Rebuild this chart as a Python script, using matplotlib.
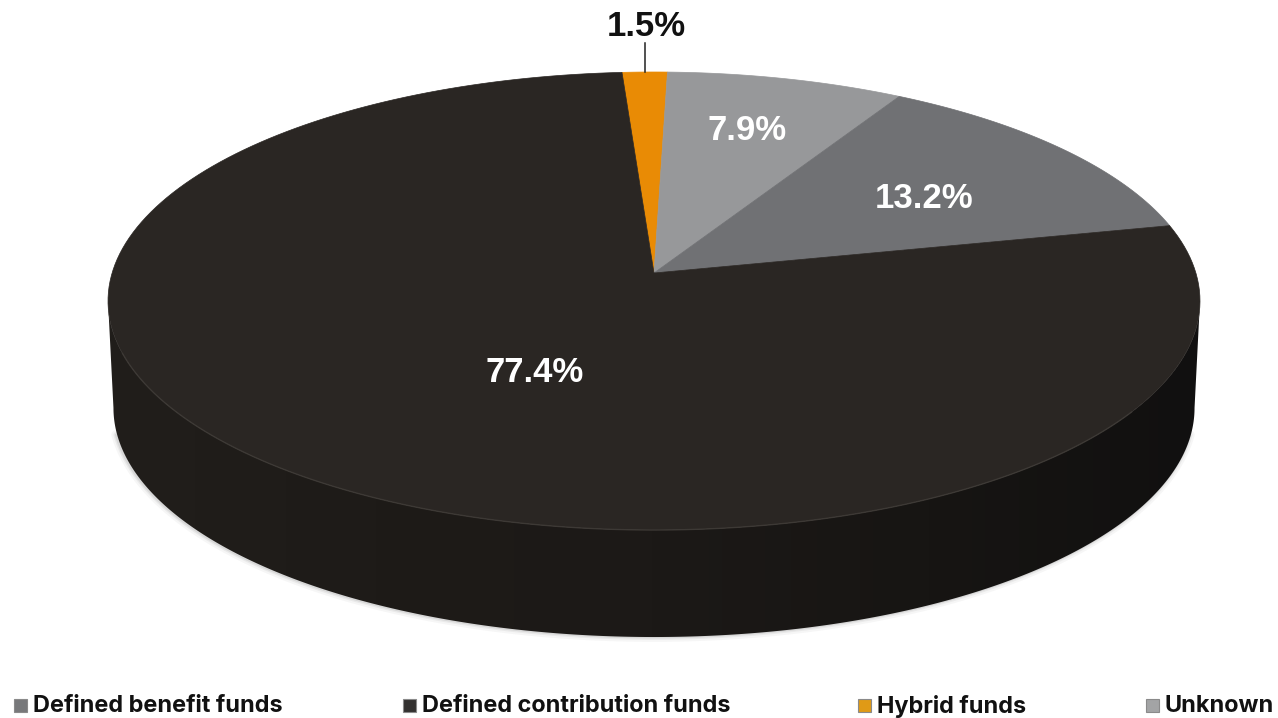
import numpy as np
import matplotlib
matplotlib.use("Agg")
import matplotlib.pyplot as plt
from matplotlib.colors import LinearSegmentedColormap
from matplotlib.patches import Polygon, Rectangle

plt.rcParams['font.family'] = ['Liberation Sans', 'DejaVu Sans']

# clockwise from the top of the pie
categories = ["Hybrid funds", "Unknown", "Defined benefit funds", "Defined contribution funds"]
shares = [1.5, 7.9, 13.2, 77.4]

legend_order = ["Defined benefit funds", "Defined contribution funds", "Hybrid funds", "Unknown"]

COLORS = {
    "Hybrid funds": "#e98b05",
    "Unknown": "#97989a",
    "Defined benefit funds": "#707174",
    "Defined contribution funds": "#2a2623",
}
LEGEND_COLORS = {
    "Hybrid funds": "#e09a16",
    "Unknown": "#a3a4a5",
    "Defined benefit funds": "#77787a",
    "Defined contribution funds": "#333130",
}
LABEL_POS = {
    "Hybrid funds": (646, 27),
    "Unknown": (747, 131),
    "Defined benefit funds": (924, 198),
    "Defined contribution funds": (535, 373),
}
LEGEND_X = {
    "Defined benefit funds": 14,
    "Defined contribution funds": 403,
    "Hybrid funds": 858,
    "Unknown": 1146,
}

START_DEG = -3.8
# tilted disc: apex and rim as seen in perspective
APEX_X, APEX_Y = 654, 273
TILT_K, TILT_D, TILT_A = 0.1223, -192.2, 541.9
WALL_DROP, WALL_SHRINK = 107, 0.99


def disc_to_pixels(theta_deg, r=1.0):
    """Project a point of the unit disc (clockwise from top) on to the tilted pie."""
    t = np.radians(theta_deg)
    u, v = r * np.sin(t), r * np.cos(t)
    w = 1 + TILT_K * v
    return APEX_X + TILT_A * u / w, (APEX_Y + TILT_D * v) / w


def rim(a, b, n=200):
    x, y = disc_to_pixels(np.linspace(a, b, n))
    return np.column_stack([x, y])


fig = plt.figure(figsize=(12.78, 7.18), dpi=100, facecolor="white")
ax = fig.add_axes([0, 0, 1, 1])

# side wall: front half of the rim joined to the same rim pushed down,
# both cut at the widest points so the silhouette stays convex
front = rim(97, 263, 300)
lower = front[::-1].copy()
lower[:, 0] = APEX_X + (lower[:, 0] - APEX_X) * WALL_SHRINK
lower[:, 1] += WALL_DROP
wall_pts = np.vstack([front, lower])

# soft shadow hugging the lower edge, kept clear of the wall's corners
shadow = lower[12:-12]
for lw, alpha in [(7, 0.05), (4, 0.08), (2, 0.12)]:
    ax.plot(shadow[:, 0] - 1, shadow[:, 1], color="#555555", lw=lw, alpha=alpha,
            solid_capstyle="round", zorder=1)

wall_cmap = LinearSegmentedColormap.from_list(
    "wall", ["#211e1b", "#1e1b18", "#1c1917", "#171513", "#111010"])
img = ax.imshow(np.linspace(0, 1, 256)[None, :], cmap=wall_cmap, aspect="auto",
                extent=(100, 1205, 718, 0), zorder=2)
wall = Polygon(wall_pts, closed=True, facecolor="none", edgecolor="none",
               transform=ax.transData)
ax.add_patch(wall)
img.set_clip_path(wall)

# top face
edges = START_DEG + 360 * np.concatenate([[0], np.cumsum(shares)]) / np.sum(shares)
for name, a, b in zip(categories, edges[:-1], edges[1:]):
    pts = np.vstack([[APEX_X, APEX_Y], rim(a, b)])
    ax.add_patch(Polygon(pts, closed=True, facecolor=COLORS[name],
                         edgecolor=COLORS[name], lw=0.5, zorder=3))

# faint highlight where the top face meets the wall
hl = rim(125, 250, 300)
ax.plot(hl[:, 0], hl[:, 1], color="#3f3b37", lw=1.0, alpha=0.8, zorder=4)

# value labels
for name, value in zip(categories, shares):
    x, y = LABEL_POS[name]
    color = "#111111" if name == "Hybrid funds" else "white"
    ax.text(x, y, f"{value:.1f}%", color=color, fontsize=25, fontweight="bold",
            ha="center", va="center", zorder=5)

# leader for the small slice
ax.plot([645, 645], [43, 72], color="#222222", lw=1.1, zorder=4)

# legend row
for name in legend_order:
    x = LEGEND_X[name]
    ax.add_patch(Rectangle((x, 699), 13, 13, facecolor=LEGEND_COLORS[name],
                           edgecolor="#8a8a8a", lw=0.8, zorder=3))
    ax.text(x + 19, 706, name, color="#111111", fontsize=16.9, fontweight="bold",
            family=["Inter", "Liberation Sans"], ha="left", va="center", zorder=3)

ax.set_xlim(0, 1278)
ax.set_ylim(718, 0)
ax.axis("off")

fig.savefig("out.png", dpi=100, facecolor="white")
